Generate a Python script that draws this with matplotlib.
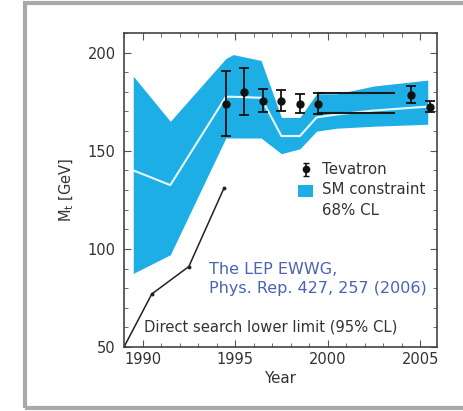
import matplotlib
matplotlib.use("Agg")
import matplotlib.pyplot as plt
from matplotlib.patches import Rectangle
from matplotlib.ticker import MultipleLocator

# SM-Anpassung (68% CL Band) und Zentralwert
band_year = [1989.5, 1991.5, 1994.5, 1994.9, 1996.4, 1997.5, 1998.5, 1999.4, 2000.5, 2002.5, 2005.4]
band_hi = [188, 165, 197, 199, 196, 167, 167, 179, 179, 183, 186]
band_lo = [87.5, 97, 156.5, 156.5, 156.5, 148.5, 151, 160, 161.5, 162.5, 163.5]
band_mid = [140, 132.5, 177.5, 177.5, 177, 157.5, 157.5, 167, 168.5, 170.5, 172.5]

# Tevatron Messungen
tev_year = [1994.5, 1995.5, 1996.5, 1997.5, 1998.5, 1999.5, 2004.5, 2005.5]
tev_mass = [174, 180, 175.5, 175.5, 174, 174, 178.5, 172.5]
tev_err = [16.5, 12, 6, 5.5, 5, 5.2, 4.3, 2.9]

# horizontale Linien 1999.5 - 2003.6
hline_y = [179.3, 169.1]
hline_x = [1999.5, 2003.6]

# direkte Suche untere Grenze
ds_year = [1989.0, 1990.5, 1992.5, 1994.4]
ds_mass = [50, 77, 91, 131]

fig = plt.figure(figsize=(4.64, 4.11), dpi=100)
fig.patches.append(Rectangle((25 / 464, 3 / 411), 1.0, 405 / 411, transform=fig.transFigure,
                             fill=False, edgecolor="#a9a9a9", linewidth=3))

ax = fig.add_axes([124 / 464, (411 - 347) / 411, 313 / 464, 314 / 411])
blue = "#1eaee6"
ax.fill_between(band_year, band_lo, band_hi, color=blue, linewidth=0)
ax.plot(band_year, band_mid, color="#e8f8ff", lw=1.5)

for y in hline_y:
    ax.plot(hline_x, [y, y], color="#1a1a1a", lw=1.5)

ax.errorbar(tev_year, tev_mass, yerr=tev_err, fmt="o", color="#111111", ms=5,
            elinewidth=1.3, capsize=3.5, capthick=1.3)
ax.plot(ds_year, ds_mass, color="#222222", lw=1.1, marker="o", ms=1.8)

ax.set_xlim(1989, 2005.9)
ax.set_ylim(50, 210)
ax.set_yticks([50, 100, 150, 200])
ax.set_xticks([1990, 1995, 2000, 2005])
ax.xaxis.set_minor_locator(MultipleLocator(1))
ax.yaxis.set_minor_locator(MultipleLocator(10))
ax.tick_params(which="both", direction="in", top=True, right=True, colors="#555555",
               labelcolor="#333333", labelsize=10.5)
ax.tick_params(which="major", length=5)
ax.tick_params(which="minor", length=3)
ax.tick_params(axis="y", pad=6)
for s in ax.spines.values():
    s.set_color("#444444")
    s.set_linewidth(1.2)

ax.set_xlabel("Year", fontsize=10.8, color="#333333", labelpad=3)
ax.set_ylabel("M$_\\mathregular{t}$ [GeV]", fontsize=10.5, color="#333333", labelpad=8)

# Legende von Hand
ax.errorbar([1998.8], [140.5], yerr=[3.2], fmt="o", color="#111111", ms=4.5,
            elinewidth=1.2, capsize=2.5)
ax.add_patch(Rectangle((1998.4, 126.6), 0.8, 6.2, color=blue, linewidth=0))
ax.text(1999.7, 140.5, "Tevatron", fontsize=10.8, color="#333333", va="center")
ax.text(1999.7, 130, "SM constraint", fontsize=10.8, color="#333333", va="center")
ax.text(1999.7, 119.5, "68% CL", fontsize=10.8, color="#333333", va="center")

ax.text(1993.6, 84.5, "The LEP EWWG,\nPhys. Rep. 427, 257 (2006)", fontsize=11.5,
        color="#4a63b5", va="center", linespacing=1.3)
ax.text(1990.1, 60, "Direct search lower limit (95% CL)", fontsize=10.6,
        color="#333333", va="center")

fig.savefig("out.png", dpi=100)
